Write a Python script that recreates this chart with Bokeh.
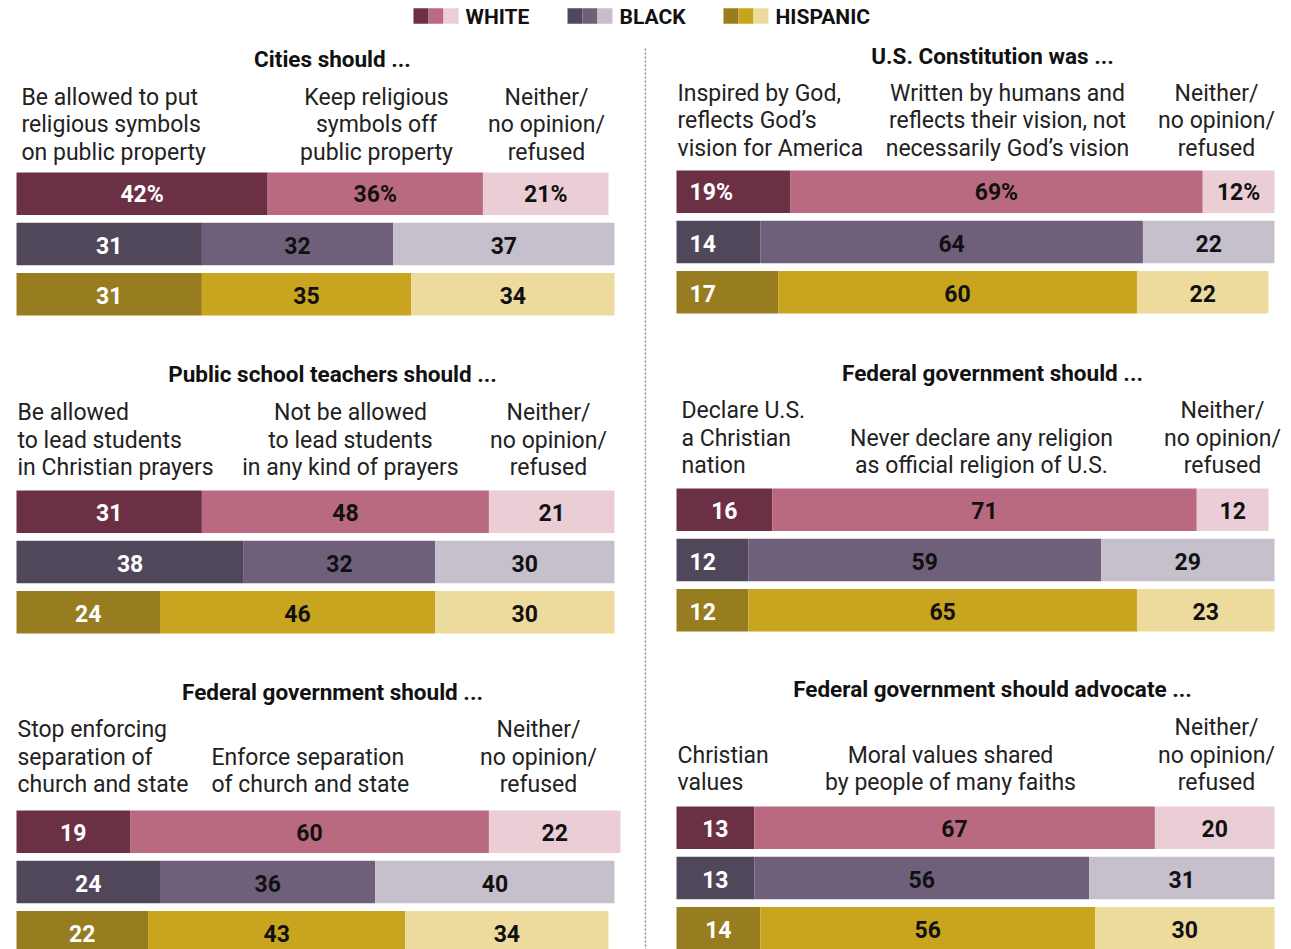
from bokeh.plotting import figure
from bokeh.models import ColumnDataSource, Range1d
from bokeh.core.properties import value
from bokeh.embed import file_html
from bokeh.resources import INLINE

# ---------------- DATA ----------------
groups = ["WHITE", "BLACK", "HISPANIC"]

titles = [
    "Cities should ...",
    "U.S. Constitution was ...",
    "Public school teachers should ...",
    "Federal government should ...",
    "Federal government should ...",
    "Federal government should advocate ...",
]

answers_cities = [["Be allowed to put", "religious symbols", "on public property"],
                  ["Keep religious", "symbols off", "public property"],
                  ["Neither/", "no opinion/", "refused"]]
answers_constitution = [["Inspired by God,", "reflects God\u2019s", "vision for America"],
                        ["Written by humans and", "reflects their vision, not", "necessarily God\u2019s vision"],
                        ["Neither/", "no opinion/", "refused"]]
answers_teachers = [["Be allowed", "to lead students", "in Christian prayers"],
                    ["Not be allowed", "to lead students", "in any kind of prayers"],
                    ["Neither/", "no opinion/", "refused"]]
answers_declare = [["Declare U.S.", "a Christian", "nation"],
                   ["Never declare any religion", "as official religion of U.S."],
                   ["Neither/", "no opinion/", "refused"]]
answers_separation = [["Stop enforcing", "separation of", "church and state"],
                      ["Enforce separation", "of church and state"],
                      ["Neither/", "no opinion/", "refused"]]
answers_advocate = [["Christian", "values"],
                    ["Moral values shared", "by people of many faiths"],
                    ["Neither/", "no opinion/", "refused"]]

# values per group (WHITE, BLACK, HISPANIC), 3 answers each
cities_values = [[42, 36, 21], [31, 32, 37], [31, 35, 34]]
constitution_values = [[19, 69, 12], [14, 64, 22], [17, 60, 22]]
teachers_values = [[31, 48, 21], [38, 32, 30], [24, 46, 30]]
declare_values = [[16, 71, 12], [12, 59, 29], [12, 65, 23]]
separation_values = [[19, 60, 22], [24, 36, 40], [22, 43, 34]]
advocate_values = [[13, 67, 20], [13, 56, 31], [14, 56, 30]]

panel_answers = [answers_cities, answers_constitution, answers_teachers,
                 answers_declare, answers_separation, answers_advocate]
panel_values = [cities_values, constitution_values, teachers_values,
                declare_values, separation_values, advocate_values]

# ---------------- STYLE / LAYOUT ----------------
COLORS = [
    ["#6c3044", "#b96a80", "#ebcdd6"],
    ["#51475a", "#6e607b", "#c6bfcc"],
    ["#977c20", "#c9a41f", "#ecdb9c"],
]
W, H = 1291, 949
PX_PER_PCT = 5.98
BAR_H = 42.5
ROW_PITCH = 50.3
FONT = "Roboto"

# layout per panel: (x origin, title center x, title y, first bar top,
#   [ (align, x, [line ys]) for each answer column ], left-aligned first labels rows)
layout = [
    (16, 332, 58, 172,
     [("left", 21, [97, 124, 152]), ("center", 376, [97, 124, 152]), ("center", 546, [97, 124, 152])], []),
    (676, 992, 55, 170,
     [("left", 677, [93, 120, 148]), ("center", 1007, [93, 120, 148]), ("center", 1216, [93, 120, 148])], [0, 1, 2]),
    (16, 332, 373, 490,
     [("left", 17, [412, 440, 467]), ("center", 350, [412, 440, 467]), ("center", 548, [412, 440, 467])], []),
    (676, 992, 372, 488,
     [("left", 681, [410, 438, 465]), ("center", 981, [438, 465]), ("center", 1222, [410, 438, 465])], [1, 2]),
    (16, 332, 691, 810,
     [("left", 17, [729, 757, 784]), ("left", 211, [757, 784]), ("center", 538, [729, 757, 784])], []),
    (676, 992, 688, 806,
     [("left", 677, [755, 782]), ("center", 950, [755, 782]), ("center", 1216, [727, 755, 782])], []),
]

p = figure(width=W, height=H, x_range=Range1d(0, W), y_range=Range1d(H, 0),
           output_backend="svg", toolbar_location=None, min_border=0,
           background_fill_color="white", border_fill_color="white")
p.axis.visible = False
p.xgrid.visible = False
p.ygrid.visible = False
p.outline_line_color = None

# ---- legend at top ----
leg_x = [413, 567, 723]
sw = dict(x=[], y=[], c=[])
lt = dict(x=[], y=[], t=[])
for gi, g in enumerate(groups):
    for k in range(3):
        sw["x"].append(leg_x[gi] + 7.5 + 15 * k)
        sw["y"].append(15.5)
        sw["c"].append(COLORS[gi][k])
    lt["x"].append(leg_x[gi] + 52)
    lt["y"].append(16)
    lt["t"].append(g)
p.rect(x="x", y="y", width=15, height=15.5, fill_color="c", line_color=None,
       source=ColumnDataSource(sw))
p.text(x="x", y="y", text="t", source=ColumnDataSource(lt), text_font=value(FONT),
       text_font_style="bold", text_font_size="21px", text_baseline="middle",
       text_align="left", text_color="#111111")

# ---- divider ----
p.line(x=[645, 645], y=[48, 949], line_color="#8c8c8c", line_width=1.5, line_dash="2 2")

# ---- panels ----
bars = dict(left=[], right=[], y=[], c=[])
lab_white = dict(x=[], y=[], t=[])
lab_white_left = dict(x=[], y=[], t=[])
lab_black = dict(x=[], y=[], t=[])
ttl = dict(x=[], y=[], t=[])
cat_l = dict(x=[], y=[], t=[])
cat_c = dict(x=[], y=[], t=[])

for pi in range(6):
    x0, tx, ty, top0, cols, left_rows = layout[pi]
    ttl["x"].append(tx); ttl["y"].append(ty); ttl["t"].append(titles[pi])
    for ci, (align, cx, ys) in enumerate(cols):
        d = cat_l if align == "left" else cat_c
        for line, yy in zip(panel_answers[pi][ci], ys):
            d["x"].append(cx); d["y"].append(yy); d["t"].append(line)
    for gi in range(3):
        vals = panel_values[pi][gi]
        yc = top0 + gi * ROW_PITCH + BAR_H / 2
        cum = 0
        for k, v in enumerate(vals):
            l = x0 + cum * PX_PER_PCT
            r = x0 + (cum + v) * PX_PER_PCT
            bars["left"].append(l); bars["right"].append(r)
            bars["y"].append(yc); bars["c"].append(COLORS[gi][k])
            txt = f"{v}%" if (gi == 0 and pi < 2) else f"{v}"
            if k == 0:
                if gi in left_rows:
                    lab_white_left["x"].append(l + 13); lab_white_left["y"].append(yc + 1)
                    lab_white_left["t"].append(txt)
                else:
                    lab_white["x"].append((l + r) / 2); lab_white["y"].append(yc + 1)
                    lab_white["t"].append(txt)
            else:
                lab_black["x"].append((l + r) / 2); lab_black["y"].append(yc + 1)
                lab_black["t"].append(txt)
            cum += v

p.hbar(y="y", left="left", right="right", height=BAR_H, fill_color="c", line_color=None,
       source=ColumnDataSource(bars))

common = dict(text_font=value(FONT), text_font_style="bold", text_font_size="23px",
              text_baseline="middle")
p.text(x="x", y="y", text="t", source=ColumnDataSource(lab_white), text_color="white",
       text_align="center", **common)
p.text(x="x", y="y", text="t", source=ColumnDataSource(lab_white_left), text_color="white",
       text_align="left", **common)
p.text(x="x", y="y", text="t", source=ColumnDataSource(lab_black), text_color="#111111",
       text_align="center", **common)

p.text(x="x", y="y", text="t", source=ColumnDataSource(ttl), text_color="#111111",
       text_align="center", text_font=value(FONT), text_font_style="bold",
       text_font_size="22.5px", text_baseline="middle")
p.text(x="x", y="y", text="t", source=ColumnDataSource(cat_l), text_color="#222222",
       text_align="left", text_font=value(FONT), text_font_size="23px",
       text_baseline="middle")
p.text(x="x", y="y", text="t", source=ColumnDataSource(cat_c), text_color="#222222",
       text_align="center", text_font=value(FONT), text_font_size="23px",
       text_baseline="middle")

open("out.html", "w").write(file_html(p, INLINE))
